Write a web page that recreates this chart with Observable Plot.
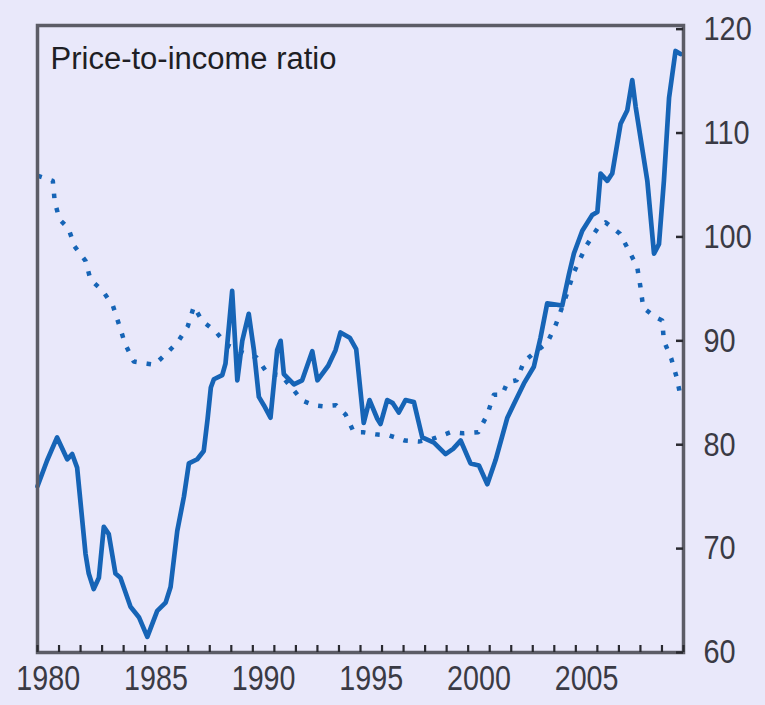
<!DOCTYPE html>
<html>
<head>
<meta charset="utf-8">
<script src="https://cdn.jsdelivr.net/npm/d3@7"></script>
<script src="https://cdn.jsdelivr.net/npm/@observablehq/plot@0.6"></script>
<style>
  html, body { margin: 0; padding: 0; background: #e9e8fa; }
  #chart { width: 765px; height: 705px; }
</style>
</head>
<body>
<div id="chart"></div>
<script>
// ---- data ----
const solidYears = [1980.0, 1980.45, 1980.91, 1981.38, 1981.61, 1981.84, 1982.23, 1982.38, 1982.61, 1982.85,
  1983.08, 1983.31, 1983.62, 1983.85, 1984.32, 1984.71, 1985.10, 1985.56, 1985.95, 1986.18,
  1986.49, 1986.80, 1987.03, 1987.42, 1987.72, 1987.90, 1988.05, 1988.19, 1988.58, 1988.73,
  1989.04, 1989.28, 1989.51, 1989.81, 1990.05, 1990.28, 1990.51, 1990.82, 1991.13, 1991.29,
  1991.44, 1991.91, 1992.29, 1992.76, 1993.00, 1993.50, 1993.84, 1994.07, 1994.50, 1994.80,
  1995.15, 1995.42, 1995.78, 1995.93, 1996.24, 1996.50, 1996.78, 1997.09, 1997.48, 1997.87,
  1998.41, 1998.95, 1999.30, 1999.65, 2000.11, 2000.50, 2000.89, 2001.27, 2001.82, 2002.12,
  2002.59, 2003.05, 2003.36, 2003.67, 2004.37, 2004.68, 2004.91, 2005.30, 2005.76, 2006.00,
  2006.15, 2006.46, 2006.69, 2007.08, 2007.39, 2007.62, 2007.78, 2008.32, 2008.63, 2008.86,
  2009.09, 2009.33, 2009.63, 2009.86];
const solidValues = [76.0, 78.5, 80.7, 78.6, 79.1, 77.8, 69.5, 67.6, 66.1, 67.2,
  72.1, 71.4, 67.6, 67.2, 64.4, 63.4, 61.5, 64.0, 64.8, 66.3,
  71.7, 75.0, 78.2, 78.6, 79.4, 82.5, 85.5, 86.3, 86.7, 87.8,
  94.8, 86.2, 90.0, 92.6, 89.1, 84.6, 83.8, 82.6, 89.1, 90.0,
  86.8, 85.8, 86.2, 89.0, 86.2, 87.6, 89.1, 90.8, 90.3, 89.2,
  82.1, 84.3, 82.5, 82.0, 84.3, 84.0, 83.1, 84.3, 84.1, 80.7,
  80.2, 79.1, 79.6, 80.4, 78.2, 78.0, 76.2, 78.5, 82.6, 83.9,
  85.9, 87.5, 90.3, 93.6, 93.4, 96.4, 98.4, 100.6, 102.1, 102.4,
  106.1, 105.4, 106.1, 110.9, 112.2, 115.1, 112.5, 105.4, 98.4, 99.3,
  105.4, 113.4, 117.9, 117.6];

const dottedYears = [1980.0, 1980.22, 1980.71, 1980.80, 1981.02, 1981.44, 1981.72, 1982.23, 1982.46, 1983.03,
  1983.50, 1983.78, 1984.07, 1984.47, 1985.10, 1985.43, 1985.95, 1986.52, 1986.98, 1987.26,
  1987.65, 1988.27, 1988.80, 1989.50, 1990.17, 1990.70, 1991.30, 1991.80, 1992.29, 1992.83,
  1993.25, 1993.87, 1994.31, 1994.69, 1995.13, 1995.70, 1996.32, 1997.06, 1997.70, 1998.40,
  1999.18, 1999.77, 2000.47, 2000.89, 2001.19, 2001.58, 2001.82, 2002.25, 2002.59, 2003.10,
  2003.67, 2004.06, 2004.50, 2004.91, 2005.50, 2006.00, 2006.38, 2007.05, 2007.46, 2007.85,
  2008.00, 2008.13, 2008.67, 2009.01, 2009.09, 2009.43, 2009.68, 2009.85];
const dottedValues = [105.9, 105.75, 105.4, 103.4, 101.7, 100.8, 99.1, 97.7, 95.9, 94.8,
  93.4, 91.6, 89.7, 88.0, 87.8, 87.7, 88.7, 89.9, 91.4, 93.3,
  91.9, 90.9, 89.6, 88.9, 88.4, 86.8, 86.7, 85.5, 84.25, 83.8,
  83.7, 83.8, 82.9, 81.2, 81.2, 81.0, 80.9, 80.4, 80.3, 80.6,
  81.2, 81.1, 81.2, 82.9, 84.8, 84.8, 86.0, 86.2, 88.0, 88.9,
  89.8, 91.5, 94.0, 96.6, 99.2, 100.8, 101.4, 100.3, 98.7, 97.1,
  95.2, 93.2, 92.3, 91.95, 90.0, 88.3, 86.5, 84.8];

const titleText = ["Price-to-income ratio"];
const xLabelYears = [1980, 1985, 1990, 1995, 2000, 2005];
const xTickYears = d3.range(1980, 2011);
const yTickValues = [60, 70, 80, 90, 100, 110, 120];

const solid = solidYears.map((x, i) => ({x, y: solidValues[i]}));
const dotted = dottedYears.map((x, i) => ({x, y: dottedValues[i]}));

const blue = "#1664b6";
const ink = "#3a3a44";

const W = 765, H = 705, mL = 37, mR = 82, mT = 25, mB = 53;
const tickLen = 7;

const chart = Plot.plot({
  width: W,
  height: H,
  marginLeft: mL,
  marginRight: mR,
  marginTop: mT,
  marginBottom: mB,
  style: {background: "#e9e8fa", fontFamily: "'Liberation Sans', Arial, sans-serif", overflow: "visible"},
  x: {domain: [1980, 2010], axis: null},
  y: {domain: [60, 120.35], axis: null},
  marks: [
    Plot.line(dotted, {x: "x", y: "y", stroke: blue, strokeWidth: 4.5, strokeDasharray: "4.5,10", strokeLinecap: "butt"}),
    Plot.line(solid, {x: "x", y: "y", stroke: blue, strokeWidth: 4.7, strokeLinejoin: "round"}),
    Plot.frame({stroke: "#5c5c66", strokeWidth: 3.5}),
    Plot.tickX(xTickYears, {x: d => d, insetTop: (H - mT - mB) - tickLen, stroke: "#2a2a30", strokeWidth: 2.2}),
    Plot.tickY(yTickValues, {y: d => d, insetLeft: (W - mL - mR) - tickLen, stroke: "#2a2a30", strokeWidth: 2.5}),
    Plot.text(titleText, {frameAnchor: "top-left", text: d => d, dx: 13, dy: 21, textAnchor: "start", fontSize: 31, fill: "#1e1e24"}),
    Plot.text(xLabelYears, {x: d => d + 0.5, frameAnchor: "bottom", text: d => String(d), dy: 37, fontSize: 35, fill: ink, className: "xlab"}),
    Plot.text(yTickValues, {y: d => d, frameAnchor: "right", text: d => String(d), dx: 20, textAnchor: "start", fontSize: 34, fill: ink, className: "ylab"})
  ]
});

chart.querySelectorAll("g.xlab text").forEach(t => {
  t.setAttribute("transform", (t.getAttribute("transform") || "") + " scale(0.82,1)");
});
chart.querySelectorAll("g.ylab text").forEach(t => {
  t.setAttribute("transform", (t.getAttribute("transform") || "") + " scale(0.85,1)");
});

document.getElementById("chart").appendChild(chart);
</script>
</body>
</html>
